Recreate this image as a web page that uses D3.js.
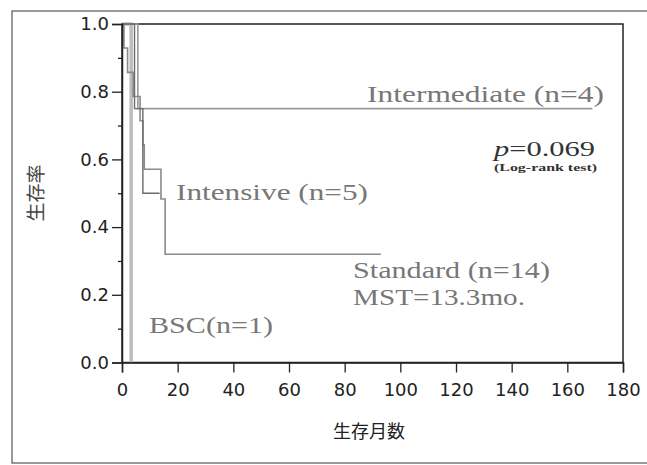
<!DOCTYPE html>
<html><head><meta charset="utf-8">
<script src="https://cdn.jsdelivr.net/npm/d3@7"></script>
<style>html,body{margin:0;padding:0;background:#fff;}svg{display:block;}</style>
</head><body>
<svg id="c" width="647" height="465"></svg>
<script>
// Data (months, survival probability)
const intermediateTimes = [0, 5.7, 169];
const intermediateSurv  = [1.0, 0.75, 0.75];
const standardTimes = [0, 0.7, 2, 4, 6.5, 7.5, 8, 14, 15.5, 93];
const standardSurv  = [1.0, 0.929, 0.857, 0.786, 0.714, 0.643, 0.571, 0.483, 0.32, 0.32];
const intensiveTimes = [0, 4.5, 7.5, 13.5];
const intensiveSurv  = [1.0, 0.75, 0.5, 0.5];
const bscTimes = [0, 3.3, 3.3];
const bscSurv  = [1.0, 0.0, 0.0];
const xTicks = [0, 20, 40, 60, 80, 100, 120, 140, 160, 180];
const yTicks = [0.0, 0.2, 0.4, 0.6, 0.8, 1.0];
const yMinorTicks = [0.1, 0.3, 0.5, 0.7, 0.9];
const xTitle = "生存月数";
const yTitle = "生存率";

const svg = d3.select("#c");
const x = d3.scaleLinear().domain([0, 180]).range([122, 623]);
const y = d3.scaleLinear().domain([0, 1]).range([362.5, 24]);

// outer border
svg.append("rect").attr("x", 12).attr("y", 11).attr("width", 650).attr("height", 452)
  .attr("fill", "none").attr("stroke", "#555").attr("stroke-width", 1.2);

// plot frame
svg.append("rect").attr("x", x(0)).attr("y", y(1)).attr("width", x(180) - x(0)).attr("height", y(0) - y(1))
  .attr("fill", "none").attr("stroke", "#222").attr("stroke-width", 1.5);

function pts(ts, ss) { return ts.map((t, i) => [t, ss[i]]); }
const line = d3.line().x(d => x(d[0])).y(d => y(d[1])).curve(d3.curveStepAfter);

const curves = [
  {t: bscTimes, s: bscSurv, c: "#bdbdbd", w: 3.5},
  {t: intermediateTimes, s: intermediateSurv, c: "#9a9a9a", w: 1.6},
  {t: standardTimes, s: standardSurv, c: "#8a8a8a", w: 1.6},
  {t: intensiveTimes, s: intensiveSurv, c: "#6a6a6a", w: 1.4}
];
curves.forEach(cv => {
  svg.append("path").attr("d", line(pts(cv.t, cv.s))).attr("fill", "none")
    .attr("stroke", cv.c).attr("stroke-width", cv.w);
});

// axes
const yAxis = d3.axisLeft(y).tickValues(yTicks).tickFormat(d3.format(".1f")).tickSize(10).tickPadding(3);
const gy = svg.append("g").attr("transform", `translate(${x(0)},0)`).call(yAxis);
gy.select(".domain").attr("stroke", "#222").attr("stroke-width", 1.5);
gy.selectAll(".tick line").attr("stroke", "#222").attr("stroke-width", 1.3);
gy.selectAll("text").attr("font-family", "DejaVu Sans").attr("font-size", 18).attr("fill", "#222");
const yMinor = d3.axisLeft(y).tickValues(yMinorTicks).tickSize(4).tickFormat("");
const gym = svg.append("g").attr("transform", `translate(${x(0)},0)`).call(yMinor);
gym.select(".domain").remove();
gym.selectAll(".tick line").attr("stroke", "#222").attr("stroke-width", 1.3);

const xAxis = d3.axisBottom(x).tickValues(xTicks).tickSize(10).tickPadding(11);
const gx = svg.append("g").attr("transform", `translate(0,${y(0)})`).call(xAxis);
gx.select(".domain").attr("stroke", "#222").attr("stroke-width", 1.5);
gx.selectAll(".tick line").attr("stroke", "#222").attr("stroke-width", 1.3);
gx.selectAll("text").attr("font-family", "DejaVu Sans").attr("font-size", 18).attr("fill", "#222");

// titles
svg.append("text").attr("x", 369).attr("y", 438).attr("text-anchor", "middle")
  .attr("font-family", "Noto Sans CJK JP").attr("font-size", 18).attr("fill", "#222").text(xTitle);
svg.append("text").attr("transform", "translate(43,193) rotate(-90)").attr("text-anchor", "middle")
  .attr("font-family", "Noto Sans CJK JP").attr("font-size", 19).attr("fill", "#444").text(yTitle);

// annotations
const serif = "Liberation Serif";
const ann = [
  {t: "Intermediate (n=4)", x: 367, y: 102, w: 237, fs: 24},
  {t: "Intensive (n=5)", x: 176, y: 200, w: 192, fs: 24},
  {t: "Standard (n=14)", x: 353, y: 278, w: 197, fs: 24},
  {t: "MST=13.3mo.", x: 353, y: 305, w: 172, fs: 24},
  {t: "BSC(n=1)", x: 149, y: 333, w: 124, fs: 24}
];
ann.forEach(a => {
  svg.append("text").attr("x", a.x).attr("y", a.y).attr("font-family", serif).attr("font-size", a.fs)
    .attr("fill", "#777").attr("textLength", a.w).attr("lengthAdjust", "spacingAndGlyphs").text(a.t);
});
const pt = svg.append("text").attr("x", 494).attr("y", 156).attr("font-family", serif).attr("font-size", 22)
  .attr("fill", "#333").attr("textLength", 101).attr("lengthAdjust", "spacingAndGlyphs");
pt.append("tspan").attr("font-style", "italic").text("p");
pt.append("tspan").text("=0.069");
svg.append("text").attr("x", 494).attr("y", 171).attr("font-family", serif).attr("font-size", 10)
  .attr("font-weight", "bold").attr("fill", "#333").attr("textLength", 103).attr("lengthAdjust", "spacingAndGlyphs")
  .text("(Log-rank test)");
</script>
</body></html>
